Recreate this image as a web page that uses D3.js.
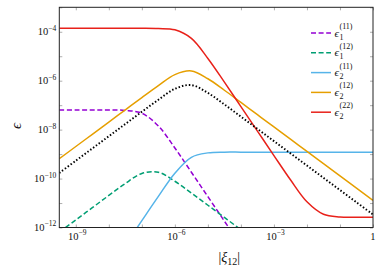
<!DOCTYPE html>
<html>
<head>
<meta charset="utf-8">
<script src="https://cdn.jsdelivr.net/npm/d3@7"></script>
<style>
  body { margin: 0; background: #fff; }
  text { font-family: "Liberation Serif", "DejaVu Serif", serif; fill: #111; }
</style>
</head>
<body>
<svg id="chart"></svg>
<script>
const xiExp = [-9.5, -9, -8.5, -8, -7.5, -7, -6.5, -6, -5.5, -5, -4.5, -4, -3.5, -3, -2.5, -2, -1.5, -1, -0.5, 0];

// log10 of epsilon for each curve
const eps1_11 = [-7.2, -7.2, -7.2, -7.2, -7.215, -7.33, -7.85, -8.75, -9.74, -10.74, -11.74, -12.74, -13.74, -14.74, -15.74, -16.74, -17.74, -18.74, -19.74, -20.74];
const eps1_12 = [-12.19, -11.69, -11.19, -10.69, -10.2, -9.79, -9.74, -10.11, -10.59, -11.09, -11.59, -12.09, -12.59, -13.09, -13.59, -14.09, -14.59, -15.09, -15.59, -16.09];
const eps2_11 = [-16.72, -15.72, -14.72, -13.72, -12.72, -11.72, -10.73, -9.78, -9.13, -8.95, -8.92, -8.92, -8.92, -8.92, -8.92, -8.92, -8.92, -8.92, -8.92, -8.92];
const eps2_12 = [-9.19, -8.69, -8.19, -7.69, -7.19, -6.69, -6.2, -5.75, -5.6, -5.92, -6.39, -6.89, -7.39, -7.89, -8.39, -8.89, -9.39, -9.89, -10.39, -10.89];
const eps2_22 = [-3.86, -3.86, -3.86, -3.86, -3.86, -3.86, -3.87, -3.92, -4.27, -5.09, -6.06, -7.06, -8.06, -9.06, -10.05, -10.95, -11.46, -11.57, -11.58, -11.58];
const epsTotal = [-9.77, -9.27, -8.77, -8.27, -7.77, -7.27, -6.78, -6.33, -6.18, -6.5, -6.97, -7.47, -7.97, -8.47, -8.97, -9.47, -9.97, -10.47, -10.97, -11.47];

const xTickExp = [-9, -6, -3, 0];
const yTickExp = [-4, -6, -8, -10, -12];
const legendSub = ["1", "1", "2", "2", "2"];
const legendSup = ["(11)", "(12)", "(11)", "(12)", "(22)"];

const series = [
  {vals: eps1_11, color: "#9400d3", dash: "5,2.6", legend: 0},
  {vals: eps1_12, color: "#009e73", dash: "5,2.6", legend: 1},
  {vals: eps2_11, color: "#56b4e9", dash: null, legend: 2},
  {vals: eps2_12, color: "#e69f00", dash: null, legend: 3},
  {vals: eps2_22, color: "#e8211a", dash: null, legend: 4},
  {vals: epsTotal, color: "#000", dash: "1.5,2", legend: -1}
];

const W = 382, H = 272;
const margin = {top: 7.3, right: 9, bottom: 44.5, left: 59.3};
const width = W - margin.left - margin.right;
const height = H - margin.top - margin.bottom;

const svg = d3.select("#chart").attr("width", W).attr("height", H);
const g = svg.append("g").attr("transform", `translate(${margin.left},${margin.top})`);

const x = d3.scaleLog().domain([Math.pow(10, -9.5), 1]).range([0, width]);
const y = d3.scaleLog().domain([1e-12, 1e-3]).range([height, 0]);

g.append("clipPath").attr("id", "clip")
  .append("rect").attr("width", width).attr("height", height);

// decade ticks, pointing inward, on all four sides
const xDecades = d3.range(-9, 1).map(e => Math.pow(10, e));
const yDecades = d3.range(-12, -2).map(e => Math.pow(10, e));
const tickStyle = a => a.call(s => s.select(".domain").remove())
  .call(s => s.selectAll("line").attr("stroke", "#9a9a9a").attr("stroke-width", 0.8));

g.append("g").attr("transform", `translate(0,${height})`)
  .call(d3.axisBottom(x).tickValues(xDecades).tickSize(-3).tickFormat("")).call(tickStyle);
g.append("g")
  .call(d3.axisTop(x).tickValues(xDecades).tickSize(-3).tickFormat("")).call(tickStyle);
g.append("g")
  .call(d3.axisLeft(y).tickValues(yDecades).tickSize(-3).tickFormat("")).call(tickStyle);
g.append("g").attr("transform", `translate(${width},0)`)
  .call(d3.axisRight(y).tickValues(yDecades).tickSize(-3).tickFormat("")).call(tickStyle);

function powLabel(t, e) {
  if (e === 0) { t.text("1"); return; }
  t.append("tspan").text("10");
  t.append("tspan").attr("dy", -4.5).style("font-size", "7.5px").text("\u2212" + Math.abs(e));
}

xTickExp.forEach(e => {
  const t = g.append("text")
    .attr("x", x(Math.pow(10, e)) + (e === 0 ? 0 : 1.5))
    .attr("y", height + 12.5)
    .attr("text-anchor", "middle")
    .style("font-size", "10.5px");
  powLabel(t, e);
});

yTickExp.forEach(e => {
  const t = g.append("text")
    .attr("x", -3)
    .attr("y", y(Math.pow(10, e)) + 3.5)
    .attr("text-anchor", "end")
    .style("font-size", "10.5px");
  powLabel(t, e);
});

// curves
const line = d3.line()
  .x((d, i) => x(Math.pow(10, xiExp[i])))
  .y(d => y(Math.pow(10, d)))
  .curve(d3.curveCatmullRom.alpha(0.5));

const curves = g.append("g").attr("clip-path", "url(#clip)");
series.forEach(s => {
  curves.append("path")
    .attr("d", line(s.vals))
    .attr("fill", "none")
    .attr("stroke", s.color)
    .attr("stroke-width", s.legend < 0 ? 1.9 : 1.5)
    .attr("stroke-dasharray", s.dash);
});

// frame
g.append("rect").attr("width", width).attr("height", height)
  .attr("fill", "none").attr("stroke", "#222").attr("stroke-width", 1);

// legend
const legend = svg.append("g");
series.filter(s => s.legend >= 0).forEach(s => {
  const i = s.legend;
  const ly = 33 + i * 19.8;
  legend.append("line")
    .attr("x1", 311).attr("x2", 331).attr("y1", ly).attr("y2", ly)
    .attr("stroke", s.color).attr("stroke-width", 1.5)
    .attr("stroke-dasharray", s.dash);
  legend.append("text").attr("x", 334.5).attr("y", ly + 3.5)
    .style("font-size", "11px").style("font-style", "italic").text("\u03f5");
  legend.append("text").attr("x", 339.5).attr("y", ly + 6.5)
    .style("font-size", "8px").text(legendSub[i]);
  legend.append("text").attr("x", 339.5).attr("y", ly - 4)
    .style("font-size", "8px").text(legendSup[i]);
});

// axis labels
const xl = svg.append("text")
  .attr("x", margin.left + x(Math.pow(10, -4.35)))
  .attr("y", 262)
  .attr("text-anchor", "middle")
  .style("font-size", "14px");
xl.append("tspan").text("|");
xl.append("tspan").style("font-style", "italic").text("\u03be");
xl.append("tspan").attr("dy", 3).style("font-size", "10px").text("12");
xl.append("tspan").attr("dy", -3).text("|");

svg.append("text")
  .attr("transform", "translate(21,126) rotate(-90)")
  .attr("text-anchor", "middle")
  .style("font-size", "15px").style("font-style", "italic")
  .text("\u03f5");
</script>
</body>
</html>
